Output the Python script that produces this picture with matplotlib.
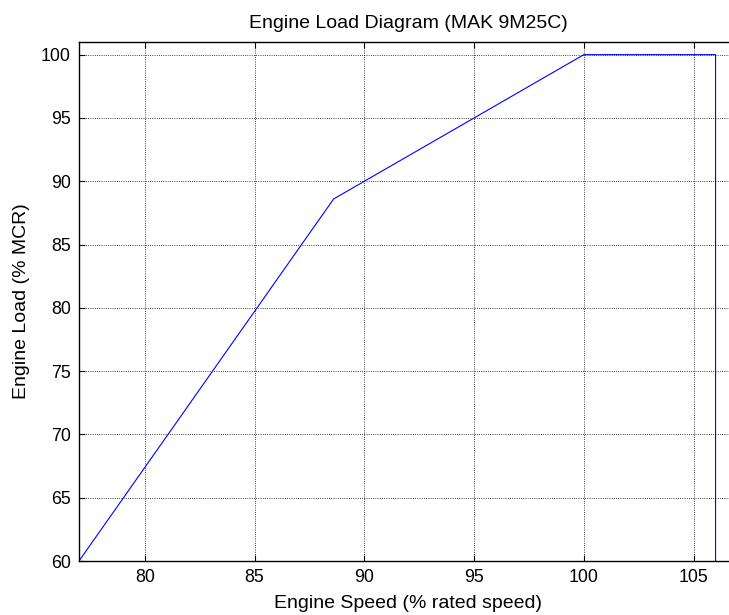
import matplotlib
matplotlib.use("Agg")
import matplotlib.pyplot as plt

# 负荷曲线数据
speed = [77, 88.6, 100, 106, 106]
load = [60, 88.6, 100, 100, 60]
xticks = [80, 85, 90, 95, 100, 105]
yticks = [60, 65, 70, 75, 80, 85, 90, 95, 100]

plt.rcParams['font.family'] = ['Liberation Sans', 'DejaVu Sans']

fig = plt.figure(figsize=(7.29, 6.15), dpi=100)
# 坐标区右边超出图窗（原图被裁切）
ax_l, ax_b, ax_w, ax_h = 79, 561, 658.5, 519
ax = fig.add_axes([ax_l / 729, 1 - ax_b / 615, ax_w / 729, ax_h / 615])

ax.plot(speed, load, color='blue', linewidth=0.8)

ax.set_xlim(77, 107)
ax.set_ylim(60, 101)
ax.set_xticks(xticks)
ax.set_yticks(yticks)
ax.grid(True, color='black', linestyle=':', linewidth=0.6)
ax.tick_params(direction='in', top=True, right=True, labelsize=12.8, length=4, width=0.8, pad=6)
for s in ax.spines.values():
    s.set_linewidth(1.0)

ax.set_title('Engine Load Diagram (MAK 9M25C)', fontsize=14, pad=10)
ax.set_xlabel('Engine Speed (% rated speed)', fontsize=14, va='center')
ax.set_ylabel('Engine Load (% MCR)', fontsize=14, va='center')
ax.xaxis.set_label_coords(0.5, (ax_b - 603) / ax_h)
ax.yaxis.set_label_coords((22 - ax_l) / ax_w, 0.5)

fig.savefig('out.png', dpi=100)
